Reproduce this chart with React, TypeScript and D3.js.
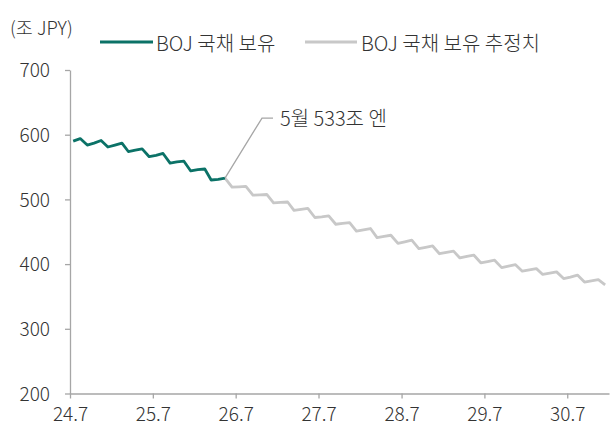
import { axisBottom, axisLeft, line, scaleLinear, scaleTime, select, timeFormat, timeParse } from "d3";
import { useEffect, useRef } from "react";

const WIDTH = 614
const HEIGHT = 427

// 실제 보유 (조 엔)
const actualMonths = [
  "2024-07", "2024-08", "2024-09", "2024-10", "2024-11", "2024-12",
  "2025-01", "2025-02", "2025-03", "2025-04", "2025-05", "2025-06",
  "2025-07", "2025-08", "2025-09", "2025-10", "2025-11", "2025-12",
  "2026-01", "2026-02", "2026-03", "2026-04", "2026-05",
]
const actualValues = [
  590, 594, 584, 587, 591, 581,
  584, 587, 574, 576, 578, 566,
  568, 571, 556, 558, 559, 544,
  546, 547, 530, 531, 533,
]

// 추정치
const estMonths = [
  "2026-05", "2026-06", "2026-07", "2026-08", "2026-09", "2026-10", "2026-11", "2026-12",
  "2027-01", "2027-02", "2027-03", "2027-04", "2027-05", "2027-06", "2027-07", "2027-08",
  "2027-09", "2027-10", "2027-11", "2027-12", "2028-01", "2028-02", "2028-03", "2028-04",
  "2028-05", "2028-06", "2028-07", "2028-08", "2028-09", "2028-10", "2028-11", "2028-12",
  "2029-01", "2029-02", "2029-03", "2029-04", "2029-05", "2029-06", "2029-07", "2029-08",
  "2029-09", "2029-10", "2029-11", "2029-12", "2030-01", "2030-02", "2030-03", "2030-04",
  "2030-05", "2030-06", "2030-07", "2030-08", "2030-09", "2030-10", "2030-11", "2030-12",
]
const estValues = [
  533, 519, 519.5, 520, 506.5, 507, 507.6, 494.6,
  495.3, 496, 483, 484.5, 486, 472, 473, 474.5,
  461.6, 463, 464, 451, 453, 455, 441, 443,
  444.6, 432, 434.5, 437, 424, 426, 428, 416,
  418, 420, 409.5, 412, 414, 402, 404, 406,
  394.6, 397, 399, 389, 391, 393, 384, 386,
  388, 377.6, 380, 383, 372.3, 374, 376, 368,
]

const yTicks = [200, 300, 400, 500, 600, 700]
const xTicks = ["2024-07", "2025-07", "2026-07", "2027-07", "2028-07", "2029-07", "2030-07"]

const seriesNames = ["BOJ 국채 보유", "BOJ 국채 보유 추정치"]
const annotation = "5월 533조 엔"
const unitLabel = "(조 JPY)"

const FONT = "'Noto Sans CJK KR', 'Noto Sans', sans-serif"
const GREEN = "#0b7267"
const GREY = "#c8c8c8"
const AXIS = "#a6a6a6"
const TEXT = "#333"

const parseMonth = timeParse("%Y-%m")
// 월 중간에 점을 찍는다
const mid = (m: string) => {
  const d = parseMonth(m)!
  return new Date(d.getFullYear(), d.getMonth(), 15)
}

export default function App() {
  const ref = useRef<SVGSVGElement>(null)

  const x = scaleTime()
    .domain([new Date(2024, 6, 1), new Date(2031, 0, 1)])
    .range([70, 609])
  const y = scaleLinear().domain([200, 700]).range([393.5, 70])

  const path = line<{ m: string; v: number }>()
    .x(d => x(mid(d.m)))
    .y(d => y(d.v))

  const actual = actualMonths.map((m, i) => ({ m, v: actualValues[i] }))
  const est = estMonths.map((m, i) => ({ m, v: estValues[i] }))

  useEffect(() => {
    const svg = select(ref.current)
    svg.selectAll(".axis").remove()

    const fmt = timeFormat("%y.%-m")
    const gx = svg.append("g")
      .attr("class", "axis")
      .attr("transform", `translate(0,${y(200)})`)
      .call(
        axisBottom(x)
          .tickValues(xTicks.map(m => parseMonth(m)!))
          .tickFormat(d => fmt(d as Date))
          .tickSize(5)
          .tickSizeOuter(0)
          .tickPadding(9)
      )
    const gy = svg.append("g")
      .attr("class", "axis")
      .attr("transform", `translate(${x(new Date(2024, 6, 1))},0)`)
      .call(axisLeft(y).tickValues(yTicks).tickSize(5).tickSizeOuter(0).tickPadding(15))

    for (const g of [gx, gy]) {
      g.selectAll("path,line").attr("stroke", AXIS).attr("stroke-width", 1.3)
      g.selectAll("text")
        .attr("fill", TEXT)
        .style("font-family", FONT)
        .style("font-size", "19px")
        .style("font-weight", 300)
    }
    gx.selectAll("text").attr("dy", "0.71em")
    gy.selectAll("text").attr("dy", "0.35em")
    gx.lower()
    gy.lower()
  }, [])

  const endX = x(mid(actualMonths[actualMonths.length - 1]))
  const endY = y(actualValues[actualValues.length - 1])

  return (
    <svg
      ref={ref}
      width={WIDTH}
      height={HEIGHT}
      style={{ position: "absolute", left: 0, top: 0, background: "#fff" }}
    >
      <text x={10} y={35} fontFamily={FONT} fontSize="18.5px" fontWeight={300} fill={TEXT}>{unitLabel}</text>

      <g>
        <line x1={100} x2={153} y1={42} y2={42} stroke={GREEN} strokeWidth={3} />
        <text x={156} y={51} fontFamily={FONT} fontSize="20px" fontWeight={300} fill={TEXT}>{seriesNames[0]}</text>
        <line x1={305} x2={357} y1={42} y2={42} stroke={GREY} strokeWidth={3} />
        <text x={361} y={51} fontFamily={FONT} fontSize="20px" fontWeight={300} fill={TEXT}>{seriesNames[1]}</text>
      </g>

      <path d={path(est) ?? ""} fill="none" stroke={GREY} strokeWidth={2.8} strokeLinejoin="round" />
      <path d={path(actual) ?? ""} fill="none" stroke={GREEN} strokeWidth={2.8} strokeLinejoin="round" />

      <polyline
        points={`${endX},${endY} ${endX + 37},${endY - 60} ${endX + 48},${endY - 60}`}
        fill="none"
        stroke={AXIS}
        strokeWidth={1.3}
      />
      <text x={endX + 55} y={endY - 52.5} fontFamily={FONT} fontSize="20px" fontWeight={300} fill={TEXT}>{annotation}</text>
    </svg>
  )
}
